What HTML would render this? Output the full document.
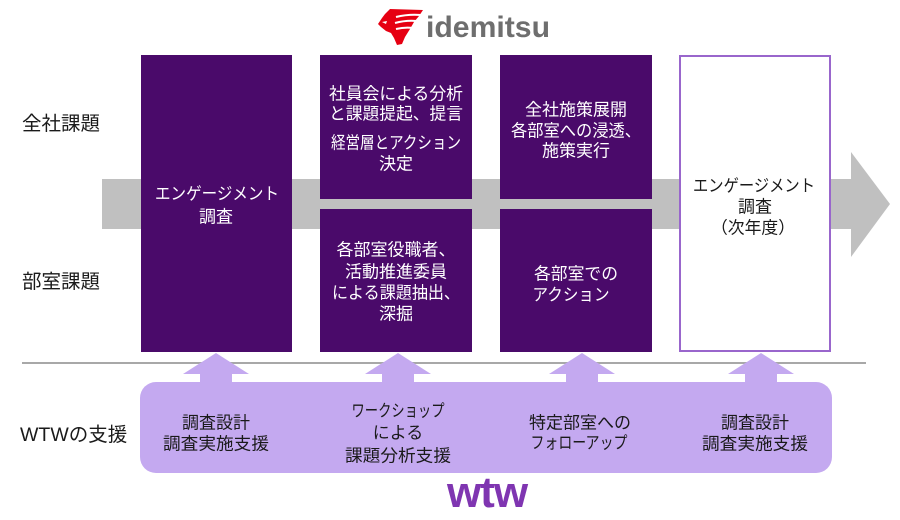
<!DOCTYPE html>
<html>
<head>
<meta charset="utf-8">
<style>
  html, body { margin: 0; padding: 0; background: #ffffff; }
  body { width: 900px; height: 520px; overflow: hidden; }
  svg { display: block; }
  text { font-family: "Liberation Sans", "Noto Sans CJK JP", sans-serif; }
  .w { fill: #ffffff; font-size: 17px; }
  .d { fill: #1a1a1a; font-size: 17px; }
  .lab { fill: #1a1a1a; font-size: 19.5px; }
</style>
</head>
<body>
<svg width="900" height="520" viewBox="0 0 900 520" xmlns="http://www.w3.org/2000/svg">
  <rect x="0" y="0" width="900" height="520" fill="#ffffff"/>

  <!-- idemitsu logo -->
  <path d="M390,9 L423,10 L419,16 L414,22 L410,29 L405,37 L402,44 L397,45 L394,38 L391,33 L386,31 L381,27 L378,24 L382,18 L385,14 Z" fill="#e60012"/>
  <path d="M396,17 Q408,14 421,15" stroke="#ffffff" stroke-width="2" fill="none"/>
  <path d="M395,23 Q406,20 417,21" stroke="#ffffff" stroke-width="2" fill="none"/>
  <path d="M396,29 Q405,27 413,28" stroke="#ffffff" stroke-width="2" fill="none"/>
  <path d="M382,22 L387,21 L386,24 Z" fill="#ffffff"/>
  <text x="426" y="37" textLength="124" lengthAdjust="spacingAndGlyphs" style="font-size:30px;font-weight:bold;fill:#6e6e6e;font-family:'Liberation Sans',sans-serif;">idemitsu</text>

  <!-- big gray arrow -->
  <polygon points="102,179 851,179 851,152 890,204 851,257 851,229 102,229" fill="#c0c0c0"/>

  <!-- purple boxes -->
  <rect x="141" y="55" width="151" height="297" fill="#4a0a6a"/>
  <rect x="320" y="55" width="152" height="144" fill="#4a0a6a"/>
  <rect x="320" y="209" width="152" height="143" fill="#4a0a6a"/>
  <rect x="500" y="55" width="152" height="144" fill="#4a0a6a"/>
  <rect x="500" y="209" width="152" height="143" fill="#4a0a6a"/>
  <rect x="680" y="56" width="150" height="295" fill="#ffffff" stroke="#9966cc" stroke-width="2"/>

  <!-- left labels -->
  <text class="lab" x="22" y="130">全社課題</text>
  <text class="lab" x="22" y="288">部室課題</text>
  <text class="lab" x="20" y="441">WTWの支援</text>

  <!-- box texts -->
  <g text-anchor="middle">
    <text class="w" x="217" y="199.5" textLength="124" lengthAdjust="spacingAndGlyphs">エンゲージメント</text>
    <text class="w" x="216" y="222.5">調査</text>

    <text class="w" x="396" y="99.5" textLength="134" lengthAdjust="spacingAndGlyphs">社員会による分析</text>
    <text class="w" x="396" y="119.5" textLength="134" lengthAdjust="spacingAndGlyphs">と課題提起、提言</text>
    <text class="w" x="396" y="148.5" textLength="130" lengthAdjust="spacingAndGlyphs">経営層とアクション</text>
    <text class="w" x="396" y="169.5">決定</text>

    <text class="w" x="396" y="255.5">各部室役職者、</text>
    <text class="w" x="396" y="277.5">活動推進委員</text>
    <text class="w" x="396" y="298.5" textLength="128" lengthAdjust="spacingAndGlyphs">による課題抽出、</text>
    <text class="w" x="396" y="319.5">深掘</text>

    <text class="w" x="576" y="115.5">全社施策展開</text>
    <text class="w" x="576" y="136.5" textLength="130" lengthAdjust="spacingAndGlyphs">各部室への浸透、</text>
    <text class="w" x="576" y="156.5">施策実行</text>

    <text class="w" x="576" y="279.5" textLength="84" lengthAdjust="spacingAndGlyphs">各部室での</text>
    <text class="w" x="571" y="300.5" textLength="77" lengthAdjust="spacingAndGlyphs">アクション</text>

    <text class="d" x="754" y="191.5" textLength="122" lengthAdjust="spacingAndGlyphs">エンゲージメント</text>
    <text class="d" x="755" y="212.5">調査</text>
    <text class="d" x="753" y="233.5" textLength="84" lengthAdjust="spacingAndGlyphs">（次年度）</text>
  </g>

  <!-- separator line -->
  <line x1="22" y1="363" x2="866" y2="363" stroke="#a8a8a8" stroke-width="2"/>

  <!-- support band -->
  <rect x="140" y="382" width="692" height="91" rx="16" ry="16" fill="#c4a9f0"/>
  <polygon points="200,384 200,374 183,374 216,353 249,374 232,374 232,384" fill="#c4a9f0"/>
  <polygon points="382,384 382,374 365,374 398,353 431,374 414,374 414,384" fill="#c4a9f0"/>
  <polygon points="566,384 566,374 549,374 582,353 615,374 598,374 598,384" fill="#c4a9f0"/>
  <polygon points="745,384 745,374 728,374 761,353 794,374 777,374 777,384" fill="#c4a9f0"/>

  <g text-anchor="middle">
    <text class="d" x="216" y="428.5">調査設計</text>
    <text class="d" x="216" y="449.5" textLength="106" lengthAdjust="spacingAndGlyphs">調査実施支援</text>

    <text class="d" x="398" y="416.5" textLength="93" lengthAdjust="spacingAndGlyphs">ワークショップ</text>
    <text class="d" x="398" y="438.5">による</text>
    <text class="d" x="398" y="461.5" textLength="106" lengthAdjust="spacingAndGlyphs">課題分析支援</text>

    <text class="d" x="580" y="428.5" textLength="102" lengthAdjust="spacingAndGlyphs">特定部室への</text>
    <text class="d" x="579" y="448.5" textLength="97" lengthAdjust="spacingAndGlyphs">フォローアップ</text>

    <text class="d" x="755" y="428.5">調査設計</text>
    <text class="d" x="755" y="449.5" textLength="106" lengthAdjust="spacingAndGlyphs">調査実施支援</text>
  </g>

  <!-- wtw logo -->
  <text x="487" y="507" text-anchor="middle" style="font-size:44px;font-weight:bold;fill:#7f35b1;letter-spacing:-1px;font-family:'Liberation Sans',sans-serif;">wtw</text>
</svg>
</body>
</html>
